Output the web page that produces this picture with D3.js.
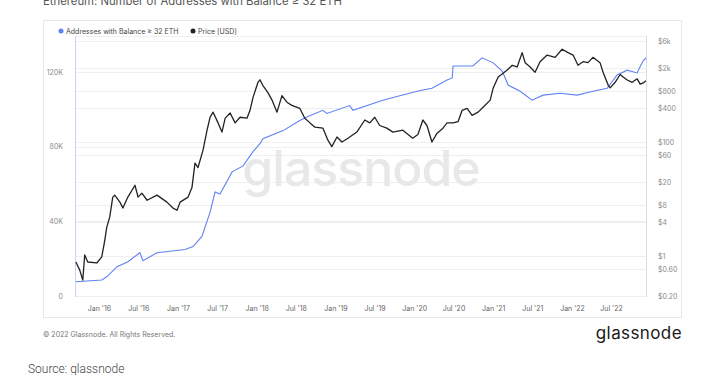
<!DOCTYPE html>
<meta charset="utf-8">
<title>Ethereum: Number of Addresses with Balance ≥ 32 ETH</title>
<script src="https://d3js.org/d3.v7.min.js"></script>
<style>
body {
	margin: 0;
	background: #fff;
	font-family: Inter, sans-serif;
}
</style>
<body>
<script>
// Addresses with balance >= 32 ETH (left axis)
const addrDates = [
	'2015-09-16', '2016-01-14', '2016-02-06', '2016-03-25', '2016-05-14', '2016-07-09', '2016-07-23',
	'2016-09-26', '2017-02-03', '2017-03-12', '2017-04-22', '2017-05-30', '2017-06-22', '2017-07-15',
	'2017-09-09', '2017-10-30', '2017-12-15', '2018-01-16', '2018-01-30', '2018-05-03', '2018-07-20',
	'2018-08-26', '2018-11-04', '2018-11-22', '2019-03-08', '2019-03-23', '2019-08-08', '2020-01-14',
	'2020-03-23', '2020-06-01', '2020-06-25', '2020-06-29', '2020-09-29', '2020-11-10', '2021-01-01',
	'2021-02-12', '2021-03-11', '2021-05-06', '2021-06-30', '2021-08-20', '2021-11-07', '2022-01-25',
	'2022-04-08', '2022-06-13', '2022-07-29', '2022-09-14', '2022-10-30', '2022-11-13', '2022-11-27',
	'2022-12-10',
];
const addrValues = [
	7600, 8600, 10300, 15700, 18400, 23200, 18900,
	23200, 24900, 26500, 31900, 44900, 55700, 54600,
	66500, 69700, 77300, 81600, 84300, 88600, 94000,
	96200, 99500, 97800, 102000, 99500, 104900, 109700,
	111300, 115700, 116800, 123200, 123200, 127600, 124900,
	120500, 113000, 109700, 104900, 107600, 108600, 107600,
	109700, 111300, 118400, 121000, 119500, 123000, 126000,
	127500,
];

// ETH price in USD (right axis, log)
const priceDates = [
	'2015-09-16', '2015-10-04', '2015-10-18', '2015-10-27', '2015-11-10', '2015-12-22', '2016-01-14',
	'2016-01-28', '2016-02-06', '2016-02-20', '2016-03-05', '2016-03-14', '2016-04-07', '2016-04-21',
	'2016-05-14', '2016-06-16', '2016-06-30', '2016-07-18', '2016-08-11', '2016-09-26', '2016-11-11',
	'2016-12-09', '2016-12-28', '2017-01-11', '2017-02-17', '2017-03-07', '2017-03-21', '2017-04-04',
	'2017-04-27', '2017-05-16', '2017-05-30', '2017-06-13', '2017-07-06', '2017-07-24', '2017-08-08',
	'2017-08-31', '2017-09-23', '2017-10-16', '2017-11-17', '2017-12-01', '2017-12-15', '2018-01-07',
	'2018-01-16', '2018-01-30', '2018-02-22', '2018-03-13', '2018-04-05', '2018-04-28', '2018-05-21',
	'2018-06-13', '2018-07-20', '2018-08-12', '2018-09-05', '2018-09-28', '2018-11-04', '2018-11-27',
	'2018-12-15', '2019-01-08', '2019-01-31', '2019-02-28', '2019-04-10', '2019-05-17', '2019-06-09',
	'2019-07-02', '2019-07-25', '2019-08-27', '2019-09-24', '2019-11-09', '2019-12-25', '2020-01-18',
	'2020-02-10', '2020-02-29', '2020-03-23', '2020-04-15', '2020-05-13', '2020-06-01', '2020-06-29',
	'2020-07-22', '2020-08-10', '2020-09-02', '2020-09-25', '2020-10-23', '2020-11-15', '2020-12-18',
	'2021-01-01', '2021-01-24', '2021-02-16', '2021-03-11', '2021-03-30', '2021-04-22', '2021-05-15',
	'2021-05-29', '2021-06-21', '2021-07-14', '2021-08-06', '2021-09-08', '2021-10-15', '2021-11-16',
	'2021-12-14', '2022-01-06', '2022-01-29', '2022-02-21', '2022-03-16', '2022-04-08', '2022-05-11',
	'2022-05-25', '2022-06-18', '2022-06-27', '2022-07-20', '2022-08-12', '2022-08-26', '2022-09-14',
	'2022-10-07', '2022-10-30', '2022-11-13', '2022-11-27', '2022-12-10',
];
const priceValues = [
	0.79, 0.57, 0.38, 1.05, 0.79, 0.76, 0.97,
	1.9, 3.2, 4.9, 10.9, 11.8, 8.9, 7.0,
	10.9, 17.6, 10.9, 12.8, 9.6, 11.8, 8.9,
	7.0, 6.4, 8.9, 10.9, 16, 43, 36,
	72, 163, 275, 338, 219, 151, 265,
	326, 219, 275, 265, 364, 614, 1130,
	1250, 990, 745, 550, 338, 660, 505,
	445, 393, 265, 219, 184, 177, 109,
	84, 124, 101, 118, 151, 246, 219,
	275, 197, 177, 151, 163, 118, 137,
	246, 197, 101, 143, 177, 219, 219,
	230, 364, 393, 297, 338, 413, 550,
	900, 1400, 1630, 1920, 2250, 2100, 3750,
	2500, 2100, 1700, 2600, 3400, 3100, 4300,
	3750, 3400, 2250, 2600, 2500, 3100, 2500,
	1700, 1000, 900, 1130, 1550, 1400, 1240,
	1130, 1300, 1050, 1100, 1200,
];

const leftTicks = [0, 40000, 80000, 120000];
const leftTickLabels = ['0', '40K', '80K', '120K'];
const rightTicks = [6000, 2000, 800, 400, 100, 60, 20, 8, 4, 1, 0.6, 0.2];
const rightTickLabels = ['$6k', '$2k', '$800', '$400', '$100', '$60', '$20', '$8', '$4', '$1', '$0.60', '$0.20'];
const xTicks = ['2016-01-01', '2016-07-01', '2017-01-01', '2017-07-01', '2018-01-01', '2018-07-01', '2019-01-01',
	'2019-07-01', '2020-01-01', '2020-07-01', '2021-01-01', '2021-07-01', '2022-01-01', '2022-07-01'];
const xTickLabels = ["Jan '16", "Jul '16", "Jan '17", "Jul '17", "Jan '18", "Jul '18", "Jan '19",
	"Jul '19", "Jan '20", "Jul '20", "Jan '21", "Jul '21", "Jan '22", "Jul '22"];
const xDomain = ['2015-09-12', '2022-12-10'];

const blue = '#5f82f2';
const black = '#222';
const gridColor = '#efefef';
const tickColor = '#8a8a8a';

const W = 727, H = 375;
const plot = { left: 75, right: 646, top: 36, bottom: 297 };

const parse = d3.utcParse('%Y-%m-%d');

const svg = d3.select('body')
	.append('svg')
		.attr('width', W)
		.attr('height', H)
		.attr('font-family', 'Inter, sans-serif');

// Title, cut off at the top edge like the source screenshot
svg.append('text')
	.attr('x', 43)
	.attr('y', 5)
	.attr('font-size', 11.3)
	.attr('fill', '#555')
	.text('Ethereum: Number of Addresses with Balance ≥ 32 ETH');

// Card
svg.append('rect')
	.attr('x', 43.5)
	.attr('y', 20.5)
	.attr('width', 638)
	.attr('height', 297)
	.attr('fill', '#fff')
	.attr('stroke', '#e8e8e8');

// Scales
const x = d3.scaleUtc()
	.domain(xDomain.map(parse))
	.range([plot.left, plot.right]);
const yLeft = d3.scaleLinear()
	.domain([0, 120000])
	.range([296, 72]);
const yRight = d3.scaleLog()
	.domain([0.2, 6000])
	.range([296, 41]);

// Grid
const grid = svg.append('g');
grid.selectAll('.gl')
	.data(leftTicks)
	.enter()
	.append('line')
		.attr('x1', plot.left)
		.attr('x2', plot.right)
		.attr('y1', d => Math.round(yLeft(d)) + 0.5)
		.attr('y2', d => Math.round(yLeft(d)) + 0.5)
		.attr('stroke', gridColor);
grid.selectAll('.gr')
	.data(rightTicks)
	.enter()
	.append('line')
		.attr('x1', plot.left)
		.attr('x2', plot.right)
		.attr('y1', d => Math.round(yRight(d)) + 0.5)
		.attr('y2', d => Math.round(yRight(d)) + 0.5)
		.attr('stroke', gridColor);
grid.append('line')
	.attr('x1', plot.left)
	.attr('x2', plot.right)
	.attr('y1', plot.top + 0.5)
	.attr('y2', plot.top + 0.5)
	.attr('stroke', gridColor);

// Watermark
svg.append('text')
	.attr('x', 361)
	.attr('y', 186)
	.attr('text-anchor', 'middle')
	.attr('font-size', 50)
	.attr('font-weight', 500)
	.attr('letter-spacing', -1)
	.attr('fill', '#e8e8e8')
	.text('glassnode');

// Axis lines
svg.append('line')
	.attr('x1', plot.left + 0.5)
	.attr('x2', plot.left + 0.5)
	.attr('y1', plot.top)
	.attr('y2', plot.bottom)
	.attr('stroke', '#c9d3f5');
svg.append('line')
	.attr('x1', plot.right + 0.5)
	.attr('x2', plot.right + 0.5)
	.attr('y1', plot.top)
	.attr('y2', plot.bottom)
	.attr('stroke', '#ddd');

// Left axis
const leftAxis = svg.append('g')
	.attr('transform', `translate(${plot.left - 9}, 0)`)
	.call(
		d3.axisLeft(yLeft)
			.tickValues(leftTicks)
			.tickFormat((d, i) => leftTickLabels[i])
			.tickSize(0)
	);
leftAxis.select('.domain').remove();
leftAxis.selectAll('text')
	.attr('font-size', 7)
	.attr('font-family', 'Inter, sans-serif')
	.attr('fill', tickColor);

// Right axis
const rightAxis = svg.append('g')
	.attr('transform', `translate(${plot.right + 9}, 0)`)
	.call(
		d3.axisRight(yRight)
			.tickValues(rightTicks)
			.tickFormat((d, i) => rightTickLabels[i])
			.tickSize(0)
	);
rightAxis.select('.domain').remove();
rightAxis.selectAll('text')
	.attr('font-size', 7)
	.attr('font-family', 'Inter, sans-serif')
	.attr('fill', tickColor);

// Bottom axis
const bottomAxis = svg.append('g')
	.attr('transform', `translate(0, ${plot.bottom + 6})`)
	.call(
		d3.axisBottom(x)
			.tickValues(xTicks.map(parse))
			.tickFormat((d, i) => xTickLabels[i])
			.tickSize(0)
	);
bottomAxis.select('.domain').remove();
bottomAxis.selectAll('text')
	.attr('font-size', 7)
	.attr('font-family', 'Inter, sans-serif')
	.attr('fill', '#666');

// Lines
const addrData = addrDates.map((d, i) => ({ date: parse(d), value: addrValues[i] }));
const priceData = priceDates.map((d, i) => ({ date: parse(d), value: priceValues[i] }));

svg.append('path')
	.datum(addrData)
	.attr('fill', 'none')
	.attr('stroke', blue)
	.attr('stroke-width', 1.1)
	.attr('d', d3.line().x(d => x(d.date)).y(d => yLeft(d.value)));

svg.append('path')
	.datum(priceData)
	.attr('fill', 'none')
	.attr('stroke', black)
	.attr('stroke-width', 1.3)
	.attr('stroke-linejoin', 'round')
	.attr('d', d3.line().x(d => x(d.date)).y(d => yRight(d.value)));

// Legend
const legend = svg.append('g')
	.attr('font-size', 7)
	.attr('fill', '#444');
legend.append('circle')
	.attr('cx', 61)
	.attr('cy', 31)
	.attr('r', 2.5)
	.attr('fill', blue);
legend.append('text')
	.attr('x', 66)
	.attr('y', 33.5)
	.text('Addresses with Balance ≥ 32 ETH');
legend.append('circle')
	.attr('cx', 193)
	.attr('cy', 31)
	.attr('r', 2.5)
	.attr('fill', black);
legend.append('text')
	.attr('x', 198)
	.attr('y', 33.5)
	.text('Price [USD]');

// Footer
svg.append('text')
	.attr('x', 43)
	.attr('y', 337)
	.attr('font-size', 7)
	.attr('fill', '#777')
	.text('© 2022 Glassnode. All Rights Reserved.');
svg.append('text')
	.attr('x', 682)
	.attr('y', 339)
	.attr('text-anchor', 'end')
	.attr('font-size', 17)
	.attr('font-weight', 400)
	.attr('letter-spacing', 0.4)
	.attr('fill', '#1a1a1a')
	.text('glassnode');
svg.append('text')
	.attr('x', 28)
	.attr('y', 373)
	.attr('font-family', 'Roboto, sans-serif')
	.attr('font-size', 12)
	.attr('font-weight', 300)
	.attr('fill', '#444')
	.text('Source: glassnode');
</script>
</body>
